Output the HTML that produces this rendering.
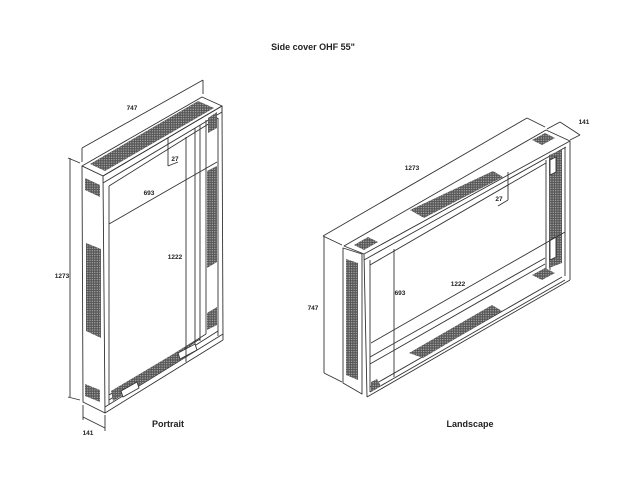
<!DOCTYPE html>
<html><head><meta charset="utf-8"><style>
html,body{margin:0;padding:0;background:#fff;}
svg{display:block;}
text{font-family:"Liberation Sans",Arial,sans-serif;font-weight:bold;fill:#222;}
</style></head><body>
<svg width="640" height="480" viewBox="0 0 640 480" xmlns="http://www.w3.org/2000/svg">
<defs>
<pattern id="perf" width="2.4" height="2.4" patternUnits="userSpaceOnUse">
<rect width="2.4" height="2.4" fill="#555"/>
<circle cx="1.2" cy="1.2" r="0.6" fill="#c4c4c4"/>
</pattern>
</defs>
<text x="313" y="50" font-size="9" text-anchor="middle">Side cover OHF 55"</text>

<!-- ========== PORTRAIT ========== -->
<g stroke="#333" stroke-width="0.9" fill="none" stroke-linejoin="round">
<polygon points="82,166 202,97 222,106 103,176" fill="#fff"/>
<polygon points="90,164 198,101 214,108 105,171" fill="url(#perf)" stroke="none"/>
<polygon points="103,176 222,106 222,112 103,183"/>
<polygon points="82,166 103,176 105,413 83,402" fill="#fff"/>
<line x1="222" y1="106" x2="223" y2="340"/>
<line x1="105" y1="413" x2="223" y2="340"/>
<line x1="105" y1="407" x2="223" y2="334"/>
<line x1="109" y1="186" x2="109" y2="404"/>
<line x1="109" y1="186" x2="218" y2="118"/>
<line x1="218" y1="118" x2="218" y2="336"/>
<line x1="195" y1="128" x2="195" y2="345"/>
<line x1="200" y1="125" x2="200" y2="341"/>
<line x1="206" y1="120" x2="206" y2="334"/>
<line x1="109" y1="395" x2="206" y2="334"/>
<line x1="109" y1="400" x2="218" y2="331"/>
<line x1="113" y1="393" x2="200" y2="339"/>
<polygon points="85,178 100,185 100,197 85,190" fill="url(#perf)" stroke="none"/>
<polygon points="86,243 101,249 101,338 86,331" fill="url(#perf)" stroke="none"/>
<polygon points="85,384 100,390 100,402 85,396" fill="url(#perf)" stroke="none"/>
<polygon points="207,171 217,166 217,262 207,268" fill="url(#perf)" stroke="none"/>
<polygon points="208,118 217,112 217,128 208,133" fill="url(#perf)" stroke="none"/>
<polygon points="207,313 217,307 217,325 207,330" fill="url(#perf)" stroke="none"/>
<polygon points="111,391 190,344 194,352 113,401" fill="url(#perf)" stroke="none"/>
<polygon points="121,391 137,382 139,388 123,397" fill="#fff"/>
<polygon points="178,353 195,344 197,350 180,359" fill="#fff"/>
<line x1="82" y1="148" x2="203" y2="80"/>
<line x1="82" y1="148" x2="82" y2="162"/>
<line x1="203" y1="80" x2="203" y2="94"/>
<line x1="70" y1="158" x2="70" y2="397"/>
<line x1="68" y1="158" x2="80" y2="163"/>
<line x1="68" y1="397" x2="80" y2="400"/>
<line x1="83" y1="417" x2="105" y2="428"/>
<line x1="83" y1="405" x2="83" y2="420"/>
<line x1="105" y1="415" x2="105" y2="431"/>
<line x1="109" y1="224" x2="217" y2="162"/>
<line x1="186" y1="137" x2="186" y2="362"/>
<line x1="168" y1="138" x2="168" y2="166"/>
<line x1="168" y1="166" x2="178" y2="162"/>
</g>
<g font-size="6.5">
<text x="132" y="110" text-anchor="middle">747</text>
<text x="62" y="278" text-anchor="middle">1273</text>
<text x="88" y="435" text-anchor="middle">141</text>
<text x="149" y="195" text-anchor="middle">693</text>
<text x="175" y="259" text-anchor="middle">1222</text>
<text x="175" y="161" text-anchor="middle">27</text>
</g>
<text x="168" y="427" font-size="9" text-anchor="middle">Portrait</text>

<!-- ========== LANDSCAPE ========== -->
<g stroke="#333" stroke-width="0.9" fill="none" stroke-linejoin="round">
<polygon points="344,246 546,130 570,141 364,254" fill="#fff"/>
<polygon points="354,245 368,237 378,242 364,250" fill="url(#perf)" stroke="none"/>
<polygon points="532,140 545,133 555,138 542,145" fill="url(#perf)" stroke="none"/>
<polygon points="410,210 493,171 503,177 424,218" fill="url(#perf)" stroke="none"/>
<polygon points="343,248 362,254 362,394 343,383" fill="#fff"/>
<polygon points="346,259 358,263 358,380 346,375" fill="url(#perf)" stroke="none"/>
<line x1="364" y1="254" x2="367" y2="397"/>
<line x1="570" y1="141" x2="570" y2="280"/>
<line x1="367" y1="397" x2="570" y2="280"/>
<line x1="364" y1="260" x2="566" y2="147"/>
<line x1="370" y1="260" x2="370" y2="392"/>
<line x1="565" y1="147" x2="565" y2="276"/>
<line x1="370" y1="392" x2="565" y2="280"/>
<line x1="370" y1="387" x2="562" y2="277"/>
<line x1="370" y1="265" x2="546" y2="163"/>
<line x1="370" y1="357" x2="545" y2="258"/>
<line x1="370" y1="364" x2="545" y2="264"/>
<line x1="546" y1="160" x2="546" y2="270"/>
<line x1="550" y1="158" x2="550" y2="270"/>
<polygon points="549,155 562,150 562,263 549,268" fill="url(#perf)" stroke="none"/>
<polygon points="550,160 556,157 556,172 550,175" fill="#fff"/>
<polygon points="550,240 556,237 556,257 550,260" fill="#fff"/>
<polygon points="409,353 492,305 502,311 423,358" fill="url(#perf)" stroke="none"/>
<polygon points="371,382 377,379 381,386 371,392" fill="url(#perf)" stroke="none"/>
<polygon points="532,275 545,268 555,273 542,280" fill="url(#perf)" stroke="none"/>
<line x1="323" y1="236" x2="527" y2="118"/>
<line x1="323" y1="236" x2="342" y2="245"/>
<line x1="527" y1="118" x2="545" y2="127"/>
<line x1="560" y1="122" x2="580" y2="135"/>
<line x1="560" y1="122" x2="547" y2="129"/>
<line x1="580" y1="135" x2="570" y2="140"/>
<line x1="324" y1="236" x2="324" y2="373"/>
<line x1="324" y1="373" x2="342" y2="382"/>
<line x1="394" y1="249" x2="394" y2="377"/>
<line x1="371" y1="343" x2="565" y2="232"/>
<line x1="508" y1="172" x2="508" y2="200"/>
<line x1="508" y1="200" x2="498" y2="206"/>
</g>
<g font-size="6.5">
<text x="412" y="170" text-anchor="middle">1273</text>
<text x="584" y="124" text-anchor="middle">141</text>
<text x="313" y="310" text-anchor="middle">747</text>
<text x="400" y="295" text-anchor="middle">693</text>
<text x="458" y="286" text-anchor="middle">1222</text>
<text x="499" y="201" text-anchor="middle">27</text>
</g>
<text x="470" y="427" font-size="9" text-anchor="middle">Landscape</text>
</svg>
</body></html>
